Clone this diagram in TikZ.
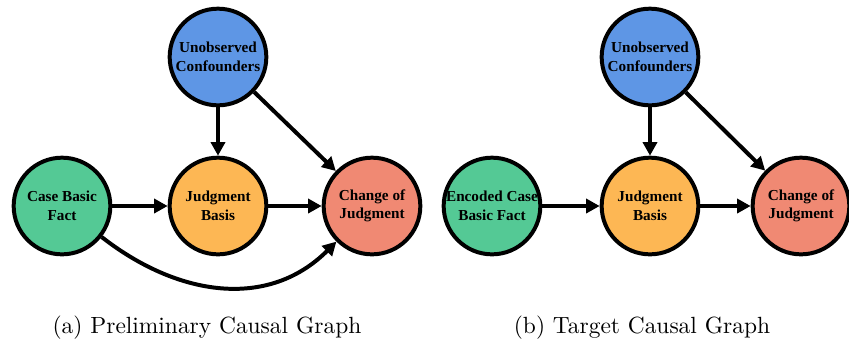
\documentclass[tikz,border=0pt]{standalone}
\usepackage{fontspec}
\usepackage{tikz}
\usetikzlibrary{arrows.meta}
\newfontfamily\nodefont{Liberation Serif}
\definecolor{factgreen}{RGB}{84,201,149}
\definecolor{confblue}{RGB}{94,150,229}
\definecolor{basisorange}{RGB}{253,183,84}
\definecolor{changered}{RGB}{240,137,115}
\tikzset{
	var/.style={circle, draw=black, line width=1.7pt, minimum size=1.45cm, inner sep=0pt, align=center, font=\nodefont\fontsize{6.5}{7.9}\selectfont\bfseries},
	link/.style={line width=1.7pt, -{Triangle[length=5.8pt,width=6pt]}}
}
\begin{document}
\begin{tikzpicture}[x=0.015cm, y=-0.015cm]
		%%%%% START %%%%%
		\useasboundingbox (0, 0) rectangle (849, 343);
		
		% (a)
		\node[var, fill=confblue] (conf) at (218, 57) {Unobserved\\Confounders};
		\node[var, fill=factgreen] (fact) at (62, 206) {Case Basic\\Fact};
		\node[var, fill=basisorange] (basis) at (218, 206) {Judgment\\Basis};
		\node[var, fill=changered] (change) at (372, 206) {Change of\\Judgment};
		
		\draw[link] (conf) -- (basis);
		\draw[link] (conf) -- (change);
		\draw[link] (fact) -- (basis);
		\draw[link] (basis) -- (change);
		\draw[link] (fact) to[out=-38, in=-135, looseness=1.05] (change);
		
		\node (capa) at (207, 328) {(a) Preliminary Causal Graph};
		
		% (b)
		\node[var, fill=confblue] (tconf) at (650, 57) {Unobserved\\Confounders};
		\node[var, fill=factgreen] (tfact) at (492, 206) {Encoded Case\\Basic Fact};
		\node[var, fill=basisorange] (tbasis) at (650, 206) {Judgment\\Basis};
		\node[var, fill=changered] (tchange) at (801, 206) {Change of\\Judgment};
		
		\draw[link] (tconf) -- (tbasis);
		\draw[link] (tconf) -- (tchange);
		\draw[link] (tfact) -- (tbasis);
		\draw[link] (tbasis) -- (tchange);
		
		\node (capb) at (642, 328) {(b) Target Causal Graph};
		%%%%% END %%%%%
	\end{tikzpicture}
\end{document}
